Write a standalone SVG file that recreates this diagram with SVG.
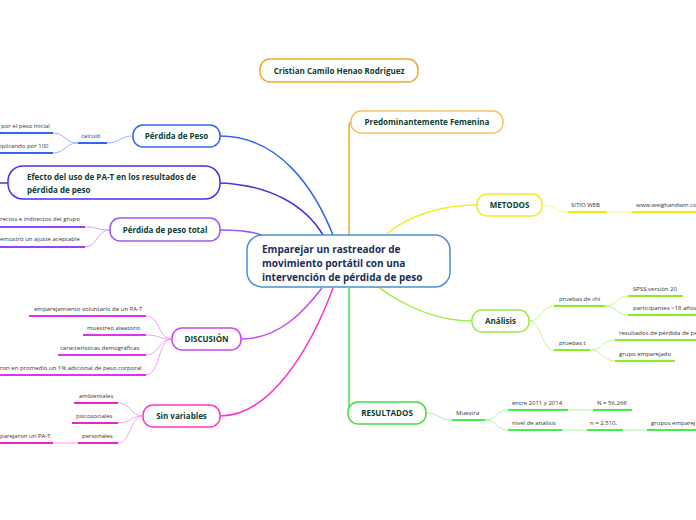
<svg xmlns="http://www.w3.org/2000/svg" width="696" height="520" viewBox="0 0 696 520">
<style>
.nt{font-family:"Open Sans","Noto Sans",sans-serif;font-weight:bold;font-size:8px;fill:#0e3f31}
.st{font-family:"Open Sans","Noto Sans",sans-serif;font-size:6px;fill:#333}
.box{fill:#fff;stroke-width:1.5}
.c{fill:none;stroke-width:1.5}
.u{fill:none;stroke-width:2}
.t{fill:none;stroke-width:1}
</style>
<rect width="696" height="520" fill="#fff"/>
<g id="connectors">
<path class="c" stroke="#3366ee" d="M220,136 C280,136 315,190 333,235"/>
<path class="c" stroke="#4a30e0" d="M220,183 C270,185 305,205 323,235"/>
<path class="c" stroke="#a055f0" d="M220,230 C240,230 255,232 264,236"/>
<path class="c" stroke="#f5a623" d="M351,122 C349,122 349,125 349,130 L349,235"/>
<path class="c" stroke="#eeee22" d="M385,235 C410,215 440,205 477,205"/>
<path class="c" stroke="#99ee44" d="M378,287 C410,310 440,321 472,321"/>
<path class="c" stroke="#44dd44" d="M349,288 L349,413"/>
<path class="c" stroke="#cc44ee" d="M241,339 C280,339 305,310 322,288"/>
<path class="c" stroke="#ff33cc" d="M220,416 C270,416 310,350 333,288"/>
<path class="c" stroke="#4a30e0" d="M0,183 L8,183"/>
<path class="t" stroke="#99b3ff" d="M133,136 C120,136 120,143 107,143"/>
<path class="u" stroke="#3366ee" d="M78,143 L107,143"/>
<path class="t" stroke="#99b3ff" d="M78,143 C65,143 65,133 53,133 M78,143 C65,143 65,153 53,153"/>
<path class="u" stroke="#3366ee" d="M0,133 L53,133 M0,153 L53,153"/>
<path class="t" stroke="#cfa8f8" d="M110,230 C97,230 97,227 85,227 M110,230 C97,230 97,247 85,247"/>
<path class="u" stroke="#9944ee" d="M0,227 L85,227 M0,247 L85,247"/>
<path class="t" stroke="#ee9ff8" d="M172,339 C158,339 160,316 146,316 M172,339 C158,339 160,335 146,335 M172,339 C158,339 160,355 146,355 M172,339 C158,339 160,375 146,375"/>
<path class="u" stroke="#dd33ee" d="M29,316 L146,316 M83,335 L146,335 M58,355 L146,355 M0,375 L146,375"/>
<path class="t" stroke="#ff9fe6" d="M143,416 C130,416 131,403 118,403 M143,416 C130,416 131,423 118,423 M143,416 C130,416 131,443 118,443"/>
<path class="u" stroke="#ee22cc" d="M74,403 L118,403 M72,423 L118,423 M78,443 L118,443 M0,443 L53,443"/>
<path class="t" stroke="#ff9fe6" d="M53,443 L78,443"/>
<path class="t" stroke="#f8f888" d="M542,205 C556,205 554,212 568,212 M607,212 L632,212"/>
<path class="u" stroke="#eeee00" d="M568,212 L607,212 M632,212 L696,212"/>
<path class="t" stroke="#c4f590" d="M529,321 C542,321 541,306 554,306 M529,321 C542,321 541,350 554,350 M605,306 C617,306 616,296 628,296 M605,306 C617,306 616,315 628,315 M590,350 C603,350 602,340 615,340 M590,350 C603,350 602,361 615,361"/>
<path class="u" stroke="#88ee22" d="M554,306 L605,306 M554,350 L590,350 M628,296 L683,296 M628,315 L696,315 M615,340 L696,340 M615,361 L675,361"/>
<path class="t" stroke="#a8f5a8" d="M426,413 C440,413 438,420 452,420 M485,420 C497,420 496,410 508,410 M485,420 C497,420 496,430 508,430 M568,410 L593,410 M562,430 L587,430 M623,430 L647,430"/>
<path class="u" stroke="#44ee44" d="M452,420 L485,420 M508,410 L568,410 M593,410 L632,410 M508,430 L562,430 M587,430 L623,430 M647,430 L696,430"/>
</g>
<g id="central">
<rect class="box" x="247" y="235" width="203" height="52" rx="15" stroke="#4a90d9"/>
<text class="nt" style="font-size:10px;fill:#1a2f55" x="262"><tspan x="262" y="253">Emparejar un rastreador de</tspan><tspan x="262" y="267">movimiento portátil con una</tspan><tspan x="262" y="281">intervención de pérdida de peso</tspan></text>
</g>
<g id="cristian">
<rect class="box" x="260" y="59" width="158" height="23" rx="10" stroke="#f5a623"/>
<text class="nt" x="339" y="74" text-anchor="middle">Cristian Camilo Henao Rodriguez</text>
</g>
<g id="predominante">
<rect class="box" x="351" y="111" width="152" height="22" rx="10" stroke="#f9c060"/>
<text class="nt" x="427" y="125" text-anchor="middle">Predominantemente Femenina</text>
</g>
<g id="metodos">
<rect class="box" x="477" y="194" width="65" height="22" rx="10" stroke="#eeee22"/>
<text class="nt" x="509.5" y="208" text-anchor="middle">METODOS</text>
<text class="st" x="571" y="207">SITIO WEB</text>
<text class="st" x="636" y="207">www.weighandwin.co</text>
</g>
<g id="analisis">
<rect class="box" x="472" y="310" width="57" height="22" rx="10" stroke="#99ee44"/>
<text class="nt" x="500.5" y="324" text-anchor="middle">Análisis</text>
<text class="st" x="559" y="301">pruebas de chi</text>
<text class="st" x="559" y="345">pruebas t</text>
<text class="st" x="633" y="291">SPSS versión 20</text>
<text class="st" x="633" y="310">participantes  &lt;18 años</text>
<text class="st" x="619" y="335">resultados de pérdida de pe</text>
<text class="st" x="619" y="356">grupo emparejado</text>
</g>
<g id="resultados">
<rect class="box" x="348" y="402" width="78" height="22" rx="10" stroke="#44dd44"/>
<text class="nt" x="387" y="416" text-anchor="middle">RESULTADOS</text>
<text class="st" x="456" y="415">Muestra</text>
<text class="st" x="512" y="405">entre 2011 y 2014</text>
<text class="st" x="597" y="405">N = 56,268</text>
<text class="st" x="512" y="425">nivel de análisis</text>
<text class="st" x="590" y="425">n = 2.510.</text>
<text class="st" x="651" y="425">grupos emparej</text>
</g>
<g id="perdida-peso">
<rect class="box" x="133" y="125" width="87" height="22" rx="10" stroke="#3366ee"/>
<text class="nt" x="176.5" y="139" text-anchor="middle">Pérdida de Peso</text>
<text class="st" x="81" y="138">calculó</text>
<text class="st" x="1" y="128">por el peso inicial</text>
<text class="st" x="0" y="148">iplicando por 100</text>
</g>
<g id="efecto">
<rect class="box" x="8" y="166" width="212" height="33" rx="15" stroke="#4a30e0"/>
<text class="nt" x="27"><tspan x="27" y="180">Efecto del uso de PA-T en los resultados de</tspan><tspan x="27" y="193">pérdida de peso</tspan></text>
</g>
<g id="perdida-total">
<rect class="box" x="110" y="218" width="110" height="23" rx="10" stroke="#a055f0"/>
<text class="nt" x="165" y="233" text-anchor="middle">Pérdida de peso total</text>
<text class="st" x="0" y="221">rectos e indirectos del grupo</text>
<text class="st" x="0" y="241">emostró un ajuste aceptable</text>
</g>
<g id="discusion">
<rect class="box" x="172" y="328" width="69" height="22" rx="10" stroke="#cc44ee"/>
<text class="nt" x="206.5" y="342" text-anchor="middle">DISCUSIÓN</text>
<text class="st" x="34" y="311">emparejamiento voluntario de un PA-T</text>
<text class="st" x="87" y="330">muestreo aleatorio</text>
<text class="st" x="60" y="350">características demográficas</text>
<text class="st" x="0" y="370">ron en promedio un 1% adicional de peso corporal</text>
</g>
<g id="sin-variables">
<rect class="box" x="143" y="405" width="77" height="22" rx="10" stroke="#ff33cc"/>
<text class="nt" x="181.5" y="419" text-anchor="middle">Sin variables</text>
<text class="st" x="79" y="398">ambientales</text>
<text class="st" x="76" y="418">psicosociales</text>
<text class="st" x="82" y="438">personales</text>
<text class="st" x="0" y="438">parejaron un PA-T</text>
</g>
</svg>
